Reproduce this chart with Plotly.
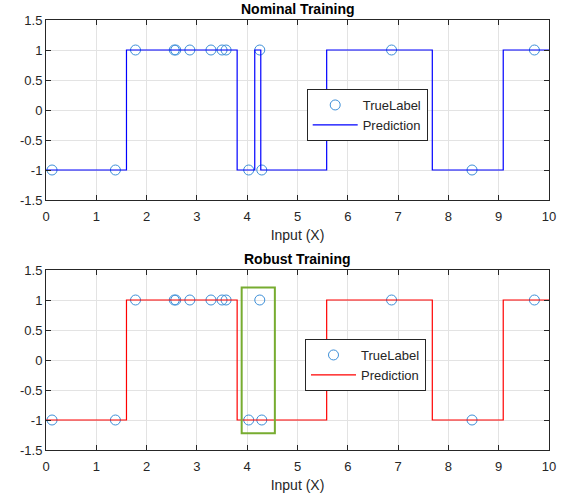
import plotly.graph_objects as go

# True labels
true_x = [0.12, 1.38, 1.78, 2.55, 2.58, 2.86, 3.28, 3.50, 3.58, 4.03, 4.25, 4.29, 6.87, 8.47, 9.71]
true_y = [-1, -1, 1, 1, 1, 1, 1, 1, 1, -1, 1, -1, 1, -1, 1]

# Nominal prediction (step change points)
nom_x = [0, 1.6, 3.8, 4.15, 4.27, 5.58, 7.68, 9.09, 10]
nom_y = [-1, 1, -1, 1, -1, 1, -1, 1, 1]

# Robust prediction (step change points)
rob_x = [0, 1.6, 3.8, 5.58, 7.68, 9.09, 10]
rob_y = [-1, 1, -1, 1, -1, 1, 1]

# Highlight box in robust plot
box_x = [3.89, 4.55]
box_y = [-1.22, 1.21]

x_ticks = list(range(0, 11))
y_ticks = [-1.5, -1, -0.5, 0, 0.5, 1, 1.5]
y_tick_text = ["-1.5", "-1", "-0.5", "0", "0.5", "1", "1.5"]

# body margin removed via post_script, so figure coords == window coords
W, H = 570, 501
ml, mt = 46, 20
pr, pb = 549, 450
mr, mb = W - pr, H - pb
ph = pb - mt
pw = pr - ml
top_dom = [(450 - 200) / ph, 1.0]
bot_dom = [0.0, 180 / ph]


def px_x(wx):
    return (wx - ml) / pw


def px_y(wy):
    return 1 - (wy - mt) / ph


fig = go.Figure()

circle_color = "#3D8FD8"
font_fam = "Liberation Sans, Arial, Helvetica, sans-serif"

fig.add_trace(go.Scatter(x=true_x, y=true_y, mode="markers", name="TrueLabel",
                         marker=dict(symbol="circle-open", size=10, color=circle_color,
                                     line=dict(width=1, color=circle_color)),
                         xaxis="x", yaxis="y", legend="legend"))
fig.add_trace(go.Scatter(x=nom_x, y=nom_y, mode="lines", name="Prediction",
                         line=dict(color="#0000FF", width=1.2, shape="hv"),
                         xaxis="x", yaxis="y", legend="legend"))
fig.add_trace(go.Scatter(x=true_x, y=true_y, mode="markers", name="TrueLabel",
                         marker=dict(symbol="circle-open", size=10, color=circle_color,
                                     line=dict(width=1, color=circle_color)),
                         xaxis="x2", yaxis="y2", legend="legend2"))
fig.add_trace(go.Scatter(x=rob_x, y=rob_y, mode="lines", name="Prediction",
                         line=dict(color="#FF0000", width=1.2, shape="hv"),
                         xaxis="x2", yaxis="y2", legend="legend2"))

axis_common = dict(showgrid=True, gridcolor="#E3E3E3", gridwidth=1,
                   showline=True, linecolor="#262626", linewidth=1, mirror="ticks",
                   ticks="inside", ticklen=5, tickcolor="#262626", zeroline=False,
                   automargin=False,
                   tickfont=dict(size=13, color="#262626", family=font_fam))

xtitle = dict(text="Input (X)", font=dict(size=14, color="#262626"), standoff=7)

fig.update_layout(
    width=W, height=H,
    margin=dict(l=ml, r=mr, t=mt, b=mb, autoexpand=False),
    paper_bgcolor="white", plot_bgcolor="white",
    font=dict(family=font_fam, color="#262626"),
    xaxis=dict(domain=[0, 1], range=[0, 10], tickvals=x_ticks, anchor="y",
               title=xtitle, ticklabelstandoff=4, **axis_common),
    yaxis=dict(domain=top_dom, range=[-1.5, 1.5], tickvals=y_ticks, ticktext=y_tick_text,
               anchor="x", **axis_common),
    xaxis2=dict(domain=[0, 1], range=[0, 10], tickvals=x_ticks, anchor="y2",
                title=xtitle, ticklabelstandoff=4, **axis_common),
    yaxis2=dict(domain=bot_dom, range=[-1.5, 1.5], tickvals=y_ticks, ticktext=y_tick_text,
                anchor="x2", **axis_common),
    legend=dict(x=px_x(306.7), y=px_y(89),
                xanchor="left", yanchor="top", bgcolor="white",
                bordercolor="#262626", borderwidth=1,
                font=dict(size=13, color="#262626"), tracegroupgap=0,
                itemwidth=45),
    legend2=dict(x=px_x(305), y=px_y(339),
                 xanchor="left", yanchor="top", bgcolor="white",
                 bordercolor="#262626", borderwidth=1,
                 font=dict(size=13, color="#262626"), tracegroupgap=0,
                 itemwidth=45),
    showlegend=True,
    shapes=[
        dict(type="rect", xref="x2", yref="y2", x0=box_x[0], x1=box_x[1],
             y0=box_y[0], y1=box_y[1], line=dict(color="#77AC30", width=2),
             fillcolor="rgba(0,0,0,0)"),
    ],
)

fig.add_annotation(text="<b>Nominal Training</b>", x=0.5, xref="paper",
                   y=px_y(9), yref="paper", yanchor="middle",
                   showarrow=False, font=dict(size=14, color="#000000"))
fig.add_annotation(text="<b>Robust Training</b>", x=0.5, xref="paper",
                   y=px_y(259), yref="paper", yanchor="middle",
                   showarrow=False, font=dict(size=14, color="#000000"))

fig.write_html("out.html",
               config={"displayModeBar": False},
               post_script="document.body.style.margin='0';"
                           "document.body.style.overflow='hidden';")
